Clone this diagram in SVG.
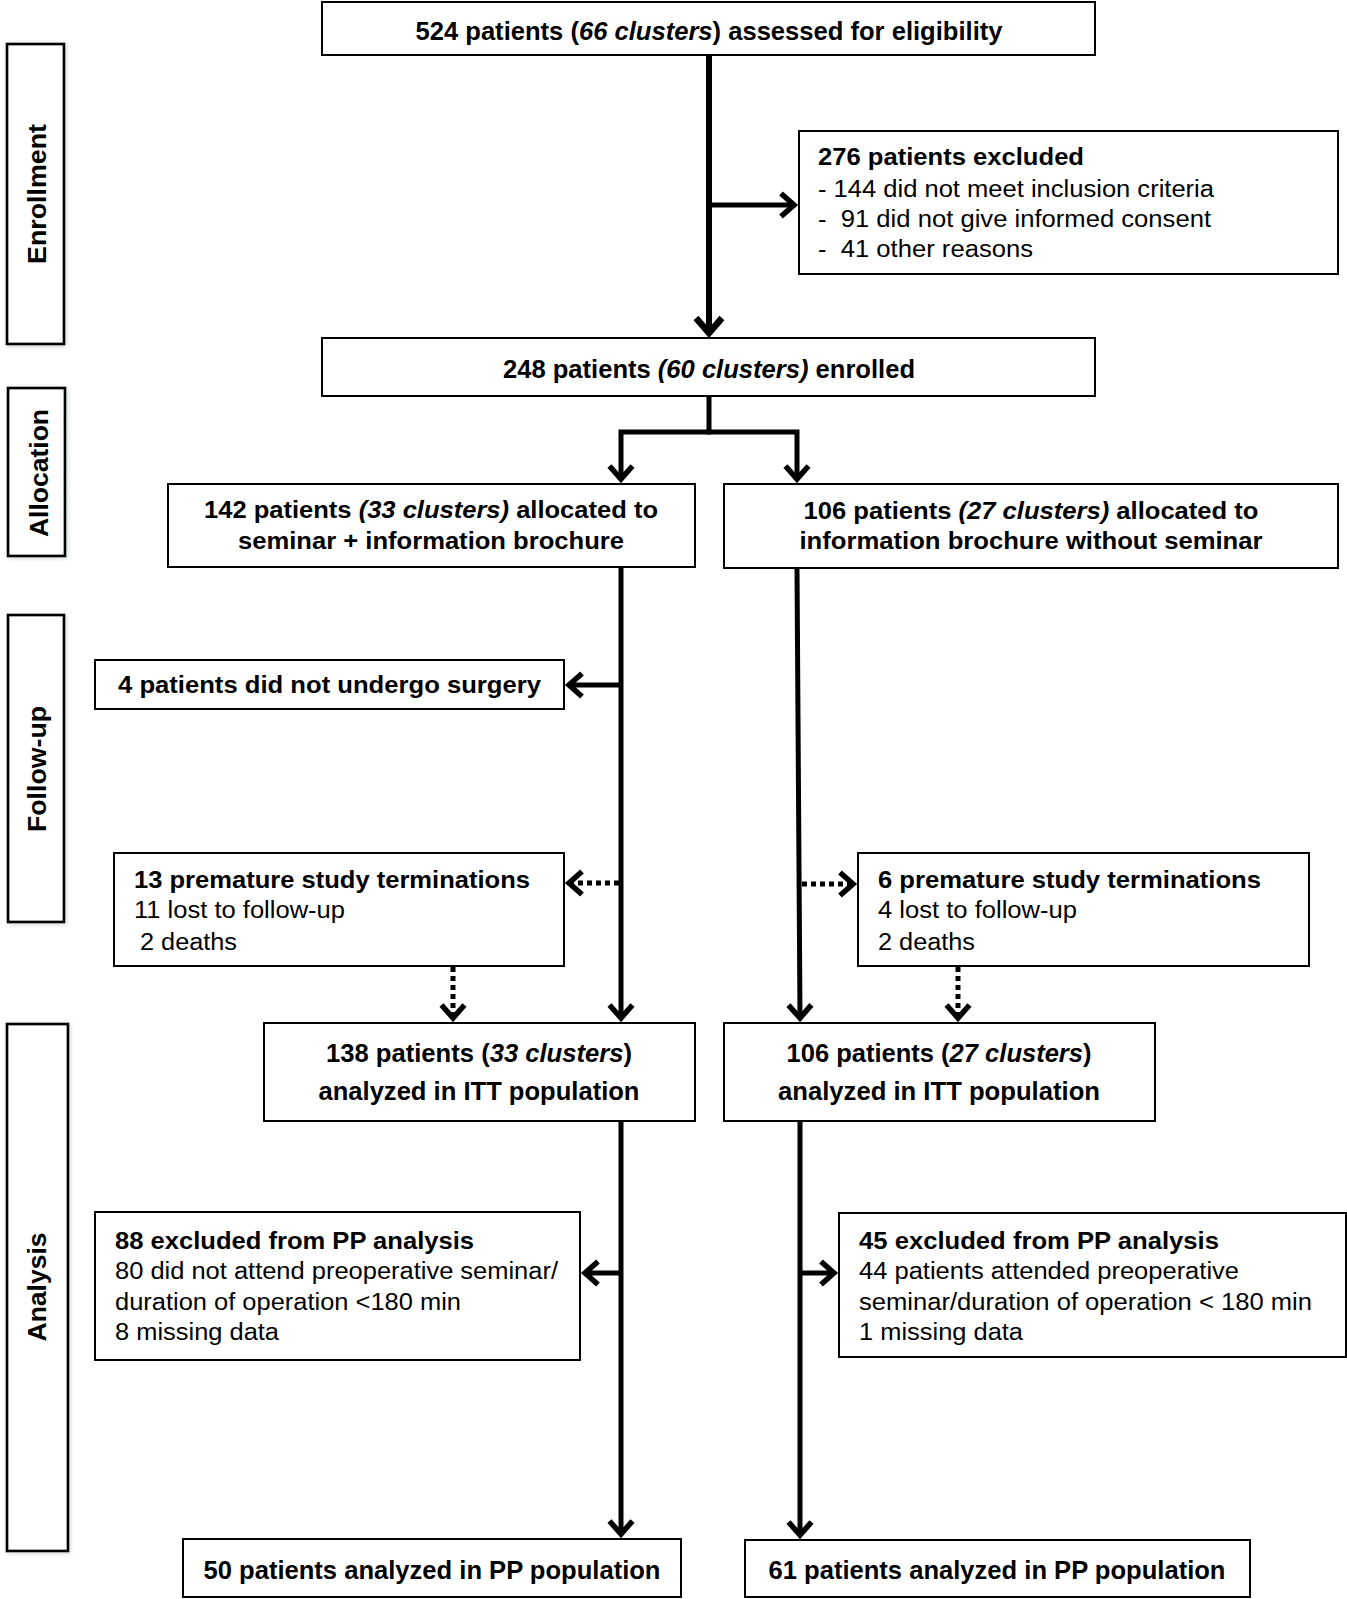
<svg xmlns="http://www.w3.org/2000/svg" width="1347" height="1599" viewBox="0 0 1347 1599">
<style>
  .box { fill: #fff; stroke: #000; stroke-width: 2; }
  .side { fill: #fff; stroke: #000; stroke-width: 2.7; filter: url(#sh); }
  text { font-family: "Liberation Sans", Arial, sans-serif; fill: #000; }
  .b { font-weight: bold; }
  .i { font-style: italic; }
  .lab { font-weight: bold; font-size: 26px; text-anchor: middle; }
  .t25 { font-size: 25px; }
  .t23 { font-size: 23px; }
  .mid { text-anchor: middle; }
  .ln { fill: none; stroke: #000; stroke-width: 5; }
  .main { stroke-width: 6; }
  .dot { stroke-width: 5; stroke-dasharray: 5 4; }
  .ahp { fill: none; stroke: #000; stroke-dasharray: none; stroke-linejoin: miter; }
</style>
<defs>
  <filter id="sh" x="-20%" y="-5%" width="140%" height="110%">
    <feDropShadow dx="1" dy="1" stdDeviation="2" flood-color="#8a9aa0" flood-opacity="0.45"/>
  </filter>
  <marker id="ah" viewBox="-18 -16 24 32" refX="0" refY="0" markerWidth="24" markerHeight="32" markerUnits="userSpaceOnUse" orient="auto">
    <path class="ahp" d="M-13,-11.5 L0,0 L-13,11.5" stroke-width="5.5"/>
  </marker>
  <marker id="ahb" viewBox="-20 -18 27 36" refX="0" refY="0" markerWidth="27" markerHeight="36" markerUnits="userSpaceOnUse" orient="auto">
    <path class="ahp" d="M-15,-13 L0,0 L-15,13" stroke-width="6.5"/>
  </marker>
</defs>
<rect width="1347" height="1599" fill="#fff"/>

<!-- side labels -->
<g id="lab-enrollment">
  <rect class="side" x="7" y="44" width="57" height="300"/>
  <text class="lab" transform="translate(46,194) rotate(-90)" textLength="140" lengthAdjust="spacingAndGlyphs">Enrollment</text>
</g>
<g id="lab-allocation">
  <rect class="side" x="8" y="388" width="57" height="168"/>
  <text class="lab" transform="translate(48,473) rotate(-90)" textLength="128" lengthAdjust="spacingAndGlyphs">Allocation</text>
</g>
<g id="lab-followup">
  <rect class="side" x="8" y="615" width="56" height="307"/>
  <text class="lab" transform="translate(46,769) rotate(-90)" textLength="126" lengthAdjust="spacingAndGlyphs">Follow-up</text>
</g>
<g id="lab-analysis">
  <rect class="side" x="7" y="1024" width="61" height="527"/>
  <text class="lab" transform="translate(46,1287) rotate(-90)" textLength="109" lengthAdjust="spacingAndGlyphs">Analysis</text>
</g>

<!-- connectors -->
<g id="connectors">
  <path class="ln main" d="M709,55 V333" marker-end="url(#ahb)"/>
  <path class="ln" d="M709,205 H794" marker-end="url(#ah)"/>
  <path class="ln" d="M709,396 V432"/>
  <path class="ln" d="M711,432 H621 V479" marker-end="url(#ah)"/>
  <path class="ln" d="M707,432 H797 V479" marker-end="url(#ah)"/>
  <path class="ln" d="M621,567 V1018" marker-end="url(#ah)"/>
  <path class="ln" d="M621,685 H569" marker-end="url(#ah)"/>
  <path class="ln dot" d="M619,883 H569" marker-end="url(#ah)"/>
  <path class="ln" d="M797,568 L800,1018" marker-end="url(#ah)"/>
  <path class="ln dot" d="M802,884 H853" marker-end="url(#ah)"/>
  <path class="ln dot" d="M453,967 V1018" marker-end="url(#ah)"/>
  <path class="ln dot" d="M958,967 V1018" marker-end="url(#ah)"/>
  <path class="ln" d="M621,1121 V1534" marker-end="url(#ah)"/>
  <path class="ln" d="M621,1273 H585" marker-end="url(#ah)"/>
  <path class="ln" d="M800,1121 V1535" marker-end="url(#ah)"/>
  <path class="ln" d="M800,1273 H834" marker-end="url(#ah)"/>
</g>

<!-- nodes -->
<g id="n-assessed">
  <rect class="box" x="322" y="2" width="773" height="53"/>
  <text class="b t25 mid" x="709" y="40" textLength="587" lengthAdjust="spacingAndGlyphs">524 patients (<tspan class="i">66 clusters</tspan>) assessed for eligibility</text>
</g>
<g id="n-excluded">
  <rect class="box" x="799" y="131" width="539" height="143"/>
  <text class="b t23" x="818" y="165" textLength="266" lengthAdjust="spacingAndGlyphs">276 patients excluded</text>
  <text class="t23" x="818" y="197" textLength="396" lengthAdjust="spacingAndGlyphs" xml:space="preserve">- 144 did not meet inclusion criteria</text>
  <text class="t23" x="818" y="227" textLength="393" lengthAdjust="spacingAndGlyphs" xml:space="preserve">-  91 did not give informed consent</text>
  <text class="t23" x="818" y="257" textLength="215" lengthAdjust="spacingAndGlyphs" xml:space="preserve">-  41 other reasons</text>
</g>
<g id="n-enrolled">
  <rect class="box" x="322" y="338" width="773" height="58"/>
  <text class="b t25 mid" x="709" y="378" textLength="412" lengthAdjust="spacingAndGlyphs">248 patients <tspan class="i">(60 clusters)</tspan> enrolled</text>
</g>
<g id="n-alloc-seminar">
  <rect class="box" x="168" y="484" width="527" height="83"/>
  <text class="b t23 mid" x="431" y="518" textLength="454" lengthAdjust="spacingAndGlyphs">142 patients <tspan class="i">(33 clusters)</tspan> allocated to</text>
  <text class="b t23 mid" x="431" y="549" textLength="386" lengthAdjust="spacingAndGlyphs">seminar + information brochure</text>
</g>
<g id="n-alloc-brochure">
  <rect class="box" x="724" y="484" width="614" height="84"/>
  <text class="b t23 mid" x="1031" y="519" textLength="455" lengthAdjust="spacingAndGlyphs">106 patients <tspan class="i">(27 clusters)</tspan> allocated to</text>
  <text class="b t23 mid" x="1031" y="549" textLength="463" lengthAdjust="spacingAndGlyphs">information brochure without seminar</text>
</g>
<g id="n-nosurgery">
  <rect class="box" x="95" y="660" width="469" height="49"/>
  <text class="b t23" x="118" y="693" textLength="423" lengthAdjust="spacingAndGlyphs">4 patients did not undergo surgery</text>
</g>
<g id="n-term-left">
  <rect class="box" x="114" y="853" width="450" height="113"/>
  <text class="b t23" x="134" y="888" textLength="396" lengthAdjust="spacingAndGlyphs">13 premature study terminations</text>
  <text class="t23" x="134" y="918" textLength="211" lengthAdjust="spacingAndGlyphs">11 lost to follow-up</text>
  <text class="t23" x="140" y="950" textLength="97" lengthAdjust="spacingAndGlyphs">2 deaths</text>
</g>
<g id="n-term-right">
  <rect class="box" x="858" y="853" width="451" height="113"/>
  <text class="b t23" x="878" y="888" textLength="383" lengthAdjust="spacingAndGlyphs">6 premature study terminations</text>
  <text class="t23" x="878" y="918" textLength="199" lengthAdjust="spacingAndGlyphs">4 lost to follow-up</text>
  <text class="t23" x="878" y="950" textLength="97" lengthAdjust="spacingAndGlyphs">2 deaths</text>
</g>
<g id="n-itt-left">
  <rect class="box" x="264" y="1023" width="431" height="98"/>
  <text class="b t25 mid" x="479" y="1062" textLength="306" lengthAdjust="spacingAndGlyphs">138 patients (<tspan class="i">33 clusters</tspan>)</text>
  <text class="b t25 mid" x="479" y="1100" textLength="321" lengthAdjust="spacingAndGlyphs">analyzed in ITT population</text>
</g>
<g id="n-itt-right">
  <rect class="box" x="724" y="1023" width="431" height="98"/>
  <text class="b t25 mid" x="939" y="1062" textLength="305" lengthAdjust="spacingAndGlyphs">106 patients (<tspan class="i">27 clusters</tspan>)</text>
  <text class="b t25 mid" x="939" y="1100" textLength="322" lengthAdjust="spacingAndGlyphs">analyzed in ITT population</text>
</g>
<g id="n-ppexcl-left">
  <rect class="box" x="95" y="1212" width="485" height="148"/>
  <text class="b t23" x="115" y="1249" textLength="359" lengthAdjust="spacingAndGlyphs">88 excluded from PP analysis</text>
  <text class="t23" x="115" y="1279" textLength="443" lengthAdjust="spacingAndGlyphs">80 did not attend preoperative seminar/</text>
  <text class="t23" x="115" y="1310" textLength="346" lengthAdjust="spacingAndGlyphs">duration of operation &lt;180 min</text>
  <text class="t23" x="115" y="1340" textLength="164" lengthAdjust="spacingAndGlyphs">8 missing data</text>
</g>
<g id="n-ppexcl-right">
  <rect class="box" x="839" y="1213" width="507" height="144"/>
  <text class="b t23" x="859" y="1249" textLength="360" lengthAdjust="spacingAndGlyphs">45 excluded from PP analysis</text>
  <text class="t23" x="859" y="1279" textLength="380" lengthAdjust="spacingAndGlyphs">44 patients attended preoperative</text>
  <text class="t23" x="859" y="1310" textLength="453" lengthAdjust="spacingAndGlyphs">seminar/duration of operation &lt; 180 min</text>
  <text class="t23" x="859" y="1340" textLength="164" lengthAdjust="spacingAndGlyphs">1 missing data</text>
</g>
<g id="n-pp-left">
  <rect class="box" x="183" y="1539" width="498" height="58"/>
  <text class="b t25 mid" x="432" y="1579" textLength="457" lengthAdjust="spacingAndGlyphs">50 patients analyzed in PP population</text>
</g>
<g id="n-pp-right">
  <rect class="box" x="745" y="1540" width="505" height="57"/>
  <text class="b t25 mid" x="997" y="1579" textLength="457" lengthAdjust="spacingAndGlyphs">61 patients analyzed in PP population</text>
</g>
</svg>
